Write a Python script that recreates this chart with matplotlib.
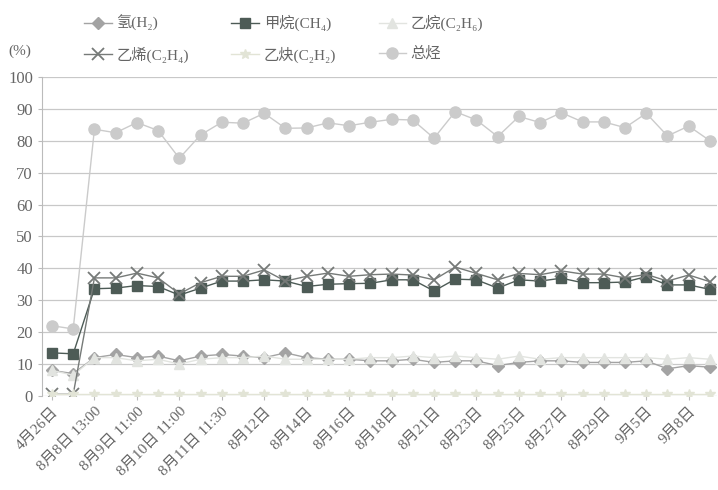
import numpy as np
import matplotlib.pyplot as plt

plt.rcParams['font.family'] = ['Liberation Serif', 'Noto Sans CJK SC', 'DejaVu Serif']

# x categories (32 samples), labels shown every other sample
dates = ['4月26日', '4月27日', '8月8日 13:00', '8月8日 17:00', '8月9日 11:00', '8月9日 17:00',
         '8月10日 11:00', '8月10日 17:00', '8月11日 11:30', '8月11日 17:00', '8月12日', '8月13日',
         '8月14日', '8月15日', '8月16日', '8月17日', '8月18日', '8月20日', '8月21日', '8月22日',
         '8月23日', '8月24日', '8月25日', '8月26日', '8月27日', '8月28日', '8月29日', '9月1日',
         '9月5日', '9月7日', '9月8日', '9月9日']

h2 = [8, 7, 12, 13, 12, 12.5, 11, 12.5, 13, 12.5, 12, 13.5, 12, 11.5, 11.5, 11,
      11, 11.5, 10.5, 11, 11, 9.5, 10.5, 11, 11, 10.5, 10.5, 10.5, 11, 8.5, 9.5, 9]
ch4 = [13.5, 13.2, 33.6, 33.8, 34.6, 34.3, 31.6, 33.8, 36, 36, 36.4, 36, 34.3, 35, 35.2, 35.3,
       36.4, 36.4, 32.9, 36.6, 36.4, 33.8, 36.4, 36, 36.9, 35.5, 35.5, 35.7, 37.4, 34.8, 34.8, 33.4]
c2h6 = [8, 6.5, 12, 12, 11, 11.5, 10, 11.5, 12, 12, 12.5, 11.5, 11.5, 11.5, 11.5, 12,
        12, 12.5, 12, 12.5, 12, 11.5, 12.5, 11.5, 12, 12, 12, 12, 12, 11.5, 12, 11.5]
c2h4 = [0.5, 0.5, 37, 37, 38.5, 37, 32, 35.5, 37.5, 37.5, 39.5, 36, 37.5, 38.5, 37.5, 38,
        38.2, 37.9, 36.4, 40.4, 38.4, 36.4, 38.4, 38, 39.2, 38.2, 38.2, 37, 38.1, 36, 37.9, 35.8]
c2h2 = [0.5] * 32
total = [22, 21, 83.6, 82.5, 85.7, 83.2, 74.5, 81.8, 85.8, 85.5, 88.6, 83.9, 84, 85.6, 84.7, 85.8,
         86.7, 86.5, 80.8, 89.1, 86.5, 81.3, 87.6, 85.7, 88.8, 85.9, 85.9, 84.1, 88.6, 81.5, 84.6, 80]

x = np.arange(len(dates))

fig = plt.figure(figsize=(7.18, 4.90), dpi=100)
ax = fig.add_axes([0.0585, 0.192, 0.94, 0.651])

l1, = ax.plot(x, h2, color='#a3a3a3', marker='D', ms=6, lw=1.0, label='氢(H₂)')
l2, = ax.plot(x, ch4, color='#4d5b56', marker='s', ms=7, lw=1.0, label='甲烷(CH₄)')
l3, = ax.plot(x, c2h6, color='#e2e4e0', marker='^', ms=7, lw=1.0, label='乙烷(C₂H₆)')
l4, = ax.plot(x, c2h4, color='#767a78', marker='x', ms=8, mew=1.3, lw=1.0, label='乙烯(C₂H₄)')
l5, = ax.plot(x, c2h2, color='#e2e4d6', marker='*', ms=7, lw=1.0, label='乙炔(C₂H₂)')
l6, = ax.plot(x, total, color='#cbcbcb', marker='o', ms=8, lw=1.0, label='总烃')

ax.set_ylim(0, 100)
ax.set_xlim(-0.47, 31.33)
ax.set_yticks(np.arange(0, 101, 10))
ax.yaxis.grid(True, color='#c8c8c8', lw=0.9)
ax.set_axisbelow(True)
for s in ['top', 'right', 'bottom']:
    ax.spines[s].set_visible(False)
ax.spines['left'].set_color('#bbbbbb')
ax.tick_params(axis='y', colors='#666666', labelsize=12, length=3, color='#bbbbbb')
ax.set_xticks(x[::2])
ax.set_xticklabels(dates[::2], rotation=45, ha='right', rotation_mode='anchor')
ax.tick_params(axis='x', colors='#666666', labelsize=11, length=3, color='#bbbbbb')

fig.text(0.012, 0.895, '(%)', fontsize=11, color='#666666', va='center')

handles = [l1, l4, l2, l5, l3, l6]
leg = fig.legend(handles=handles, ncol=3, loc='upper left', bbox_to_anchor=(0.098, 0.998),
                 frameon=False, fontsize=11, handlelength=1.8, columnspacing=2.8,
                 labelspacing=1.0, handletextpad=0.3)
for t in leg.get_texts():
    t.set_color('#666666')

fig.savefig('out.png', dpi=100)
